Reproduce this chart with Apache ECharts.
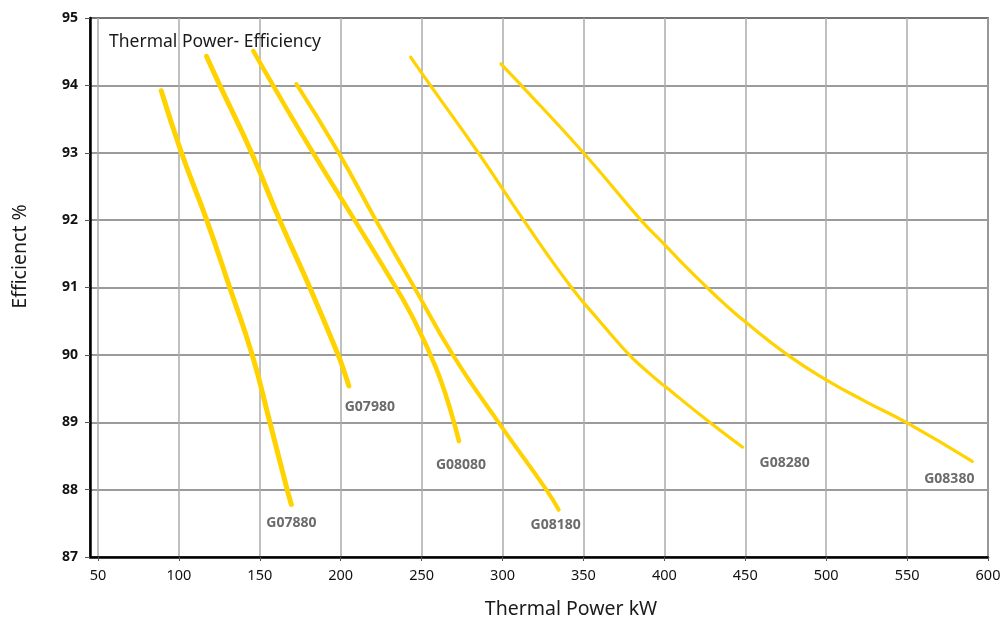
<!DOCTYPE html>
<html>
<head>
<meta charset="utf-8">
<script src="https://cdn.jsdelivr.net/npm/echarts@6/dist/echarts.min.js"></script>
<style>html,body{margin:0;padding:0;background:#fff}#c{width:1002px;height:619px}</style>
</head>
<body>
<div id="c"></div>
<script>
// ---- data ----
const xTicks = [50,100,150,200,250,300,350,400,450,500,550,600];
const yTicks = [87,88,89,90,91,92,93,94,95];
const seriesNames = ['G07880','G07980','G08080','G08180','G08280','G08380'];
const G07880 = [[89.1,93.92],[101.6,93.0],[117.2,92.0],[131.4,91.0],[145.3,90.0],[156.2,89.0],[166.9,88.0],[169.5,87.78]];
const G07980 = [[117.1,94.43],[125.3,94.0],[144.9,93.0],[162.3,92.0],[180.9,91.0],[198.4,90.0],[202,89.76],[205,89.54]];
const G08080 = [[146.0,94.51],[158.2,94.0],[182.9,93.0],[208.6,92.0],[231.3,91.11],[242.0,90.67],[251.3,90.22],[255.6,89.99],[261.7,89.63],[267.8,89.18],[273.1,88.72]];
const G08180 = [[172.6,94.02],[198.7,93.0],[221.7,92.0],[244.3,91.05],[269.3,90.0],[298.6,88.96],[327,88.0],[334.7,87.7]];
const G08280 = [[243.2,94.42],[255.4,94.0],[285,93.0],[313,92.0],[342.6,91.0],[360,90.5],[370,90.22],[380,89.96],[390,89.74],[400,89.54],[428,89.0],[448.4,88.63]];
const G08380 = [[299,94.32],[311.6,94.0],[350,93.0],[385.5,92.0],[400,91.64],[412,91.34],[425.5,91.02],[437,90.76],[450,90.49],[476.1,90.0],[500,89.63],[525,89.3],[550,88.99],[590.3,88.42]];
const seriesData = [G07880,G07980,G08080,G08180,G08280,G08380];

// ---- style ----
const lineWidths = [5,5,4.5,4,3.2,3.2];
const labelOffsets = [[0,12],[21,14],[2,17],[-3,8],[42,9],[-23,11]];
const FONT = 'Noto Sans';

const chart = echarts.init(document.getElementById('c'), null, {renderer:'canvas'});
const series = seriesData.map((d,i)=>({
  name: seriesNames[i],
  type: 'line',
  data: d,
  showSymbol: false,
  symbol: 'none',
  smooth: 0.5,
  lineStyle: {color:'#FFD200', width: lineWidths[i], cap:'round', join:'round'},
  endLabel: {
    show: true, formatter: seriesNames[i], distance: 0,
    offset: labelOffsets[i], align: 'center', verticalAlign: 'top',
    color:'#6b6b6b', fontWeight:'bold', fontSize:14, fontFamily: FONT
  },
  silent: true,
  animation: false,
  z: 3
}));

chart.setOption({
  animation: false,
  backgroundColor: '#fff',
  title: {
    text: 'Thermal Power- Efficiency',
    left: 104, top: 28,
    textStyle: {fontFamily: FONT, fontSize: 17.5, fontWeight: 'normal', color: '#1a1a1a'}
  },
  grid: {left: 90, right: 14, top: 18, bottom: 62, show: true, borderColor: '#333', borderWidth: 1.5,
         containLabel: false, outerBoundsMode: 'none'},
  xAxis: {
    type: 'value', min: 45.06, max: 600,
    name: 'Thermal Power kW', nameLocation: 'middle', nameGap: 42,
    nameTextStyle: {fontFamily: FONT, fontSize: 19.5, color: '#1a1a1a', padding: [0, 0, 0, 64]},
    axisLine: {show: true, lineStyle: {color: '#000', width: 2.5}},
    axisTick: {show: true, length: 4, customValues: xTicks, lineStyle: {color: '#555', width: 1}},
    axisLabel: {customValues: xTicks, fontFamily: FONT, fontSize: 14.5, color: '#111', margin: 11},
    splitLine: {show: true, lineStyle: {color: '#ababab', width: 1.5}}
  },
  yAxis: {
    type: 'value', min: 87, max: 95, interval: 1,
    name: 'Efficienct %', nameLocation: 'middle', nameGap: 60, nameRotate: 90,
    nameTextStyle: {fontFamily: FONT, fontSize: 19.5, color: '#1a1a1a', padding: [0, 0, 0, 62]},
    axisLine: {show: true, lineStyle: {color: '#000', width: 2.5}},
    axisTick: {show: true, length: 5, lineStyle: {color: '#555', width: 1}},
    axisLabel: {fontFamily: FONT, fontSize: 14, color: '#111', margin: 12, fontWeight: 'bold'},
    splitLine: {show: true, lineStyle: {color: '#7a7a7a', width: 1.5}}
  },
  series: series
});
</script>
</body>
</html>
